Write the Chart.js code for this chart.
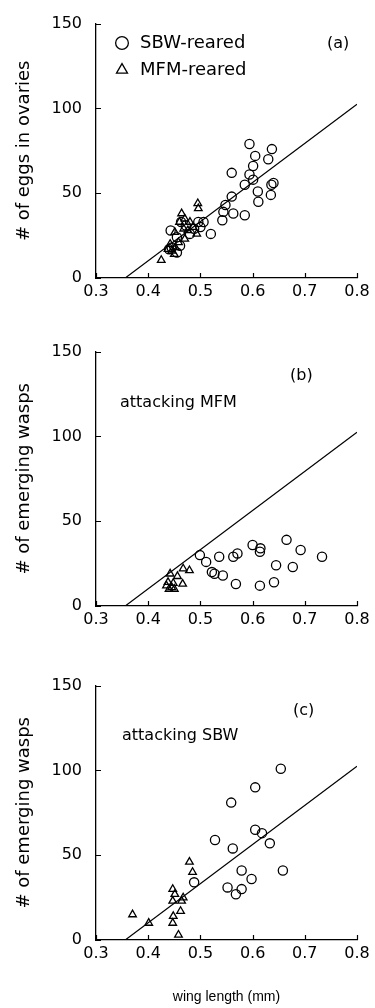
<!DOCTYPE html>
<html>
<head>
<meta charset="utf-8">
<script src="https://cdn.jsdelivr.net/npm/chart.js@4.4.1/dist/chart.umd.min.js"></script>
<style>
  html, body { margin: 0; padding: 0; background: #fff; }
  body { width: 375px; height: 1008px; position: relative; overflow: hidden; font-family: "DejaVu Sans", sans-serif; color: #000; }
  canvas { position: absolute; left: 0; }
  .lbl { position: absolute; font-size: 16px; line-height: 16px; white-space: nowrap; transform: translateY(-50%); }
</style>
</head>
<body>
<canvas id="ca" width="375" height="310" style="top:0px"></canvas>
<canvas id="cb" width="375" height="310" style="top:328px"></canvas>
<canvas id="cc" width="375" height="346" style="top:662px"></canvas>
<div class="lbl" style="left:327px;top:43px">(a)</div>
<div class="lbl" style="left:290px;top:375px">(b)</div>
<div class="lbl" style="left:120px;top:402px">attacking MFM</div>
<div class="lbl" style="left:293px;top:710px">(c)</div>
<div class="lbl" style="left:122px;top:735px">attacking SBW</div>
<script>
// ---------- data ----------
const xTickLabels = ["0.3", "0.4", "0.5", "0.6", "0.7", "0.8"];
const yTickLabels = ["0", "50", "100", "150"];
const seriesNames = ["SBW-reared", "MFM-reared"];

// fitted line (same in all panels)
const fitWing = [0.356, 0.8];
const fitCount = [0, 102.4];

// (a) # of eggs in ovaries
const aSbwWing = [0.594,0.637,0.605,0.630,0.601,0.560,0.594,0.601,0.585,0.636,0.640,0.610,0.635,0.611,0.560,0.548,0.544,0.563,0.585,0.542,0.506,0.496,0.520,0.443,0.463,0.472,0.488,0.455,0.480,0.445,0.461,0.440,0.455,0.500];
const aSbwEggs = [79,76,72,70,66,62,61,58,55,55,56,51,49,45,48,43,39,38,37,34,33,33,26,28,33,31,29,24,26,18,19,17,15,30];
const aMfmWing = [0.495,0.496,0.464,0.460,0.470,0.480,0.468,0.451,0.493,0.470,0.458,0.438,0.445,0.452,0.425,0.476,0.486,0.442,0.450];
const aMfmEggs = [44,41,38,33,35,33,29,27,26,23,21,17,16,18,10.5,28,30,20,14];

// (b) # of emerging wasps, attacking MFM
const bSbwWing = [0.665,0.692,0.733,0.645,0.677,0.641,0.499,0.511,0.536,0.563,0.571,0.600,0.615,0.614,0.522,0.527,0.543,0.568,0.614];
const bSbwWasps = [39,33,29,24,23,14,30,26,29,29,31,36,34,32,20,19,18,13,12];
const bMfmWing = [0.442,0.456,0.467,0.479,0.466,0.435,0.445,0.448,0.440,0.450,0.438];
const bMfmWasps = [19,17.5,22,21,13,12,11,13.5,10,10,14];

// (c) # of emerging wasps, attacking SBW
const cSbwWing = [0.654,0.605,0.559,0.605,0.618,0.633,0.528,0.562,0.658,0.579,0.598,0.552,0.579,0.568,0.488];
const cSbwWasps = [101,90,81,65,63,57,59,54,41,41,36,31,30,27,34];
const cMfmWing = [0.479,0.485,0.447,0.451,0.467,0.464,0.447,0.370,0.401,0.448,0.447,0.462,0.458];
const cMfmWasps = [46,40,30,27,25,23,23,15,10,14,10,17,3];

// ---------- drawing ----------
const FONT = "'DejaVu Sans', sans-serif";
const pts = (xs, ys) => xs.map((x, i) => ({ x: x, y: ys[i] }));

const inwardTicks = {
  id: 'inwardTicks',
  afterDraw(chart) {
    const { ctx, scales: { x, y }, chartArea } = chart;
    ctx.save();
    ctx.strokeStyle = '#000';
    ctx.lineWidth = 1.2;
    ctx.beginPath();
    y.ticks.forEach(t => {
      const py = Math.round(y.getPixelForValue(t.value)) + 0.5;
      ctx.moveTo(chartArea.left, py); ctx.lineTo(chartArea.left + 5, py);
    });
    x.ticks.forEach(t => {
      const px = Math.round(x.getPixelForValue(t.value)) + 0.5;
      ctx.moveTo(px, chartArea.bottom); ctx.lineTo(px, chartArea.bottom - 5);
    });
    ctx.stroke();
    ctx.restore();
  }
};

const shiftLegend = {
  id: 'shiftLegend',
  afterLayout(chart) {
    if (chart.legend && chart.options.plugins.legend.display) {
      chart.legend.left += 8;
      chart.legend.right += 8;
      chart.legend.top += 25;
      chart.legend.bottom += 25;
    }
  }
};

function makeChart(id, height, sbw, mfm, yTitle, showLegend, xTitle) {
  const ctx = document.getElementById(id);
  const xAxisHeight = height - 22 - 256;
  return new Chart(ctx, {
    data: {
      datasets: [
        {
          type: 'scatter', label: seriesNames[0], data: sbw,
          pointStyle: 'circle', pointRadius: 4.6, pointHoverRadius: 4.6,
          borderColor: '#000', backgroundColor: 'rgba(255,255,255,0)', borderWidth: 1.3
        },
        {
          type: 'scatter', label: seriesNames[1], data: mfm,
          pointStyle: 'triangle', pointRadius: 4.4, pointHoverRadius: 4.4,
          borderColor: '#000', backgroundColor: 'rgba(255,255,255,0)', borderWidth: 1.3
        },
        {
          type: 'line', label: 'fit', data: pts(fitWing, fitCount),
          borderColor: '#000', borderWidth: 1.2, pointRadius: 0, fill: false, tension: 0
        }
      ]
    },
    options: {
      responsive: false,
      animation: false,
      devicePixelRatio: 1,
      layout: { padding: { top: 22, right: 18, bottom: 0, left: 0 } },
      plugins: {
        legend: {
          display: showLegend,
          position: 'chartArea',
          align: 'start',
          labels: {
            filter: item => item.datasetIndex < 2,
            usePointStyle: true,
            boxWidth: 18,
            boxHeight: 9,
            padding: 9,
            color: '#000',
            font: { family: FONT, size: 18 }
          }
        },
        tooltip: { enabled: false }
      },
      scales: {
        x: {
          type: 'linear',
          min: 0.3, max: 0.8,
          afterFit: s => { s.height = xAxisHeight; },
          grid: { display: false, drawTicks: false },
          border: { display: true, color: '#000', width: 1.3 },
          ticks: {
            stepSize: 0.1,
            padding: 4,
            color: '#000',
            font: { family: FONT, size: 16 },
            callback: v => xTickLabels[Math.round((v - 0.3) * 10)]
          },
          title: {
            display: !!xTitle,
            text: xTitle || '',
            color: '#000',
            font: { family: "'Liberation Sans', Arial, sans-serif", size: 14 },
            padding: { top: 0, bottom: 2 }
          }
        },
        y: {
          type: 'linear',
          min: 0, max: 150,
          afterFit: s => { s.width = 96; },
          grid: { display: false, drawTicks: false },
          border: { display: true, color: '#000', width: 1.3 },
          ticks: {
            stepSize: 50,
            padding: 14,
            color: '#000',
            font: { family: FONT, size: 16 },
            callback: v => yTickLabels[Math.round(v / 50)]
          },
          title: {
            display: true,
            text: yTitle,
            color: '#000',
            font: { family: FONT, size: 18 },
            padding: { top: 14, bottom: 0 }
          }
        }
      }
    },
    plugins: [inwardTicks, shiftLegend]
  });
}

makeChart('ca', 310, pts(aSbwWing, aSbwEggs), pts(aMfmWing, aMfmEggs), '# of eggs in ovaries', true, null);
makeChart('cb', 310, pts(bSbwWing, bSbwWasps), pts(bMfmWing, bMfmWasps), '# of emerging wasps', false, null);
makeChart('cc', 346, pts(cSbwWing, cSbwWasps), pts(cMfmWing, cMfmWasps), '# of emerging wasps', false, 'wing length (mm)');
</script>
</body>
</html>
